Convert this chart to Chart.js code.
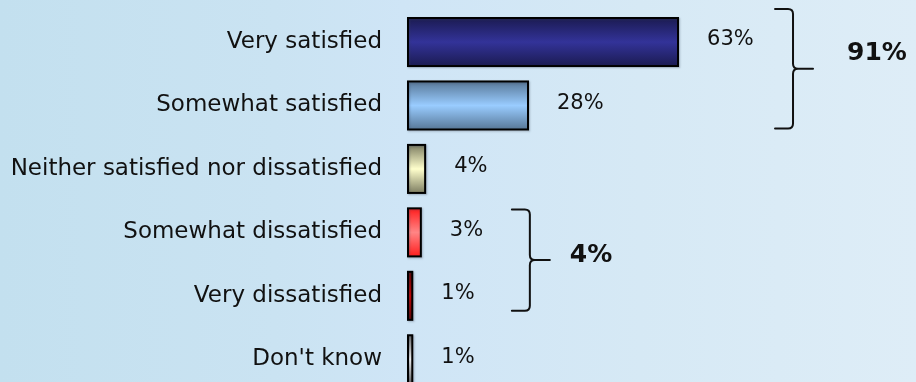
<!DOCTYPE html>
<html>
<head>
<meta charset="utf-8">
<script src="https://cdn.jsdelivr.net/npm/chart.js@4/dist/chart.umd.min.js"></script>
<style>
  html, body { margin: 0; padding: 0; width: 916px; height: 382px; overflow: hidden; }
  body { background: linear-gradient(to right, #c3e0ef 0%, #cae3f2 30%, #cfe5f6 44%, #d6e9f5 70%, #deedf7 100%); }
  canvas { display: block; }
</style>
</head>
<body>
<canvas id="chart" width="916" height="391"></canvas>
<script>
// Survey responses, share of respondents (%)
const categories = [
  'Very satisfied',
  'Somewhat satisfied',
  'Neither satisfied nor dissatisfied',
  'Somewhat dissatisfied',
  'Very dissatisfied',
  "Don't know"
];
const shares = [63, 28, 4, 3, 1, 1];

// Net groups bracketed on the right (indices into categories)
const satisfiedGroup = [0, 1];
const dissatisfiedGroup = [3, 4];

// Edge / centre colours of each bar's shaded fill
const barEdgeColors   = ['#1b1b52', '#587898', '#7e7e62', '#ff1e1e', '#5e0000', '#6a6a6a'];
const barCenterColors = ['#333399', '#99ccff', '#ffffcc', '#ff8585', '#cc0000', '#ffffff'];

const FONT = '"DejaVu Sans", sans-serif';
const BAR_PCT = 0.757;

function barFill(ctx) {
  const chart = ctx.chart;
  const y = chart.scales.y;
  if (!chart.chartArea || !y) return barCenterColors[ctx.dataIndex];
  const c = y.getPixelForValue(ctx.dataIndex);
  const half = (chart.chartArea.height / categories.length) * BAR_PCT / 2;
  const g = chart.ctx.createLinearGradient(0, c - half, 0, c + half);
  g.addColorStop(0, barEdgeColors[ctx.dataIndex]);
  g.addColorStop(0.5, barCenterColors[ctx.dataIndex]);
  g.addColorStop(1, barEdgeColors[ctx.dataIndex]);
  return g;
}

// Outline centred on each bar's edge, with a soft drop shadow
const barOutline = {
  id: 'barOutline',
  afterDatasetsDraw(chart) {
    const { ctx } = chart;
    const meta = chart.getDatasetMeta(0);
    ctx.save();
    ctx.strokeStyle = '#000';
    ctx.lineWidth = 2;
    ctx.shadowColor = 'rgba(60,70,90,0.35)';
    ctx.shadowBlur = 2;
    ctx.shadowOffsetX = 1;
    ctx.shadowOffsetY = 1;
    meta.data.forEach(bar => {
      const p = bar.getProps(['x', 'y', 'base', 'height'], true);
      const left = Math.min(p.base, p.x), w = Math.abs(p.x - p.base);
      ctx.strokeRect(left, p.y - p.height / 2, w, p.height);
    });
    ctx.restore();
  }
};

// Percentage written to the right of each bar
const valueLabels = {
  id: 'valueLabels',
  afterDatasetsDraw(chart) {
    const { ctx } = chart;
    const meta = chart.getDatasetMeta(0);
    ctx.save();
    ctx.font = '21px ' + FONT;
    ctx.fillStyle = '#111';
    ctx.textAlign = 'left';
    ctx.textBaseline = 'middle';
    meta.data.forEach((bar, i) => {
      ctx.fillText(shares[i] + '%', bar.x + 29, bar.y - 2);
    });
    ctx.restore();
  }
};

// Curly braces summing a group of bars
const groupBraces = {
  id: 'groupBraces',
  afterDatasetsDraw(chart, args, opts) {
    const { ctx } = chart;
    const x = chart.scales.x, y = chart.scales.y;
    opts.groups.forEach(gr => {
      const maxVal = Math.max(...gr.idx.map(i => shares[i]));
      const total = gr.idx.reduce((s, i) => s + shares[i], 0);
      const bx = x.getPixelForValue(maxVal) + gr.dx;
      const top = y.getPixelForValue(gr.idx[0]) + gr.topOff;
      const bot = y.getPixelForValue(gr.idx[gr.idx.length - 1]) + gr.botOff;
      const mid = (top + bot) / 2;
      const r = 5, hook = 18, tip = 20;
      ctx.save();
      ctx.strokeStyle = '#111';
      ctx.lineWidth = 2;
      ctx.lineCap = 'round';
      ctx.beginPath();
      ctx.moveTo(bx - hook, top);
      ctx.lineTo(bx - r, top);
      ctx.quadraticCurveTo(bx, top, bx, top + r);
      ctx.lineTo(bx, mid - r);
      ctx.quadraticCurveTo(bx, mid, bx + r, mid);
      ctx.lineTo(bx + tip, mid);
      ctx.moveTo(bx + r, mid);
      ctx.quadraticCurveTo(bx, mid, bx, mid + r);
      ctx.lineTo(bx, bot - r);
      ctx.quadraticCurveTo(bx, bot, bx - r, bot);
      ctx.lineTo(bx - hook, bot);
      ctx.stroke();
      ctx.font = 'bold 25px ' + FONT;
      ctx.fillStyle = '#111';
      ctx.textAlign = 'left';
      ctx.textBaseline = 'middle';
      ctx.fillText(total + '%', bx + tip + gr.textDx, mid + gr.textDy);
      ctx.restore();
    });
  }
};

new Chart(document.getElementById('chart'), {
  type: 'bar',
  data: {
    labels: categories,
    datasets: [{
      data: shares,
      backgroundColor: barFill,
      borderWidth: 0,
      categoryPercentage: 1,
      barPercentage: BAR_PCT
    }]
  },
  options: {
    indexAxis: 'y',
    responsive: false,
    animation: false,
    layout: { padding: { top: 10.3, right: 79.4, bottom: 0, left: 0 } },
    plugins: {
      legend: { display: false },
      tooltip: { enabled: false },
      groupBraces: {
        groups: [
          { idx: satisfiedGroup, dx: 115, topOff: -33, botOff: 23, textDx: 34, textDy: -15 },
          { idx: dissatisfiedGroup, dx: 109, topOff: -23, botOff: 15, textDx: 20, textDy: -5 }
        ]
      }
    },
    scales: {
      x: { display: false, min: 0, max: 100 },
      y: {
        grid: { display: false, drawTicks: false },
        border: { display: false },
        ticks: { color: '#111', font: { family: FONT, size: 23 }, padding: 26 },
        afterFit(scale) {
          scale.width = 408;
          scale.paddingTop = 0;
          scale.paddingBottom = 0;
        }
      }
    }
  },
  plugins: [barOutline, valueLabels, groupBraces]
});
</script>
</body>
</html>
